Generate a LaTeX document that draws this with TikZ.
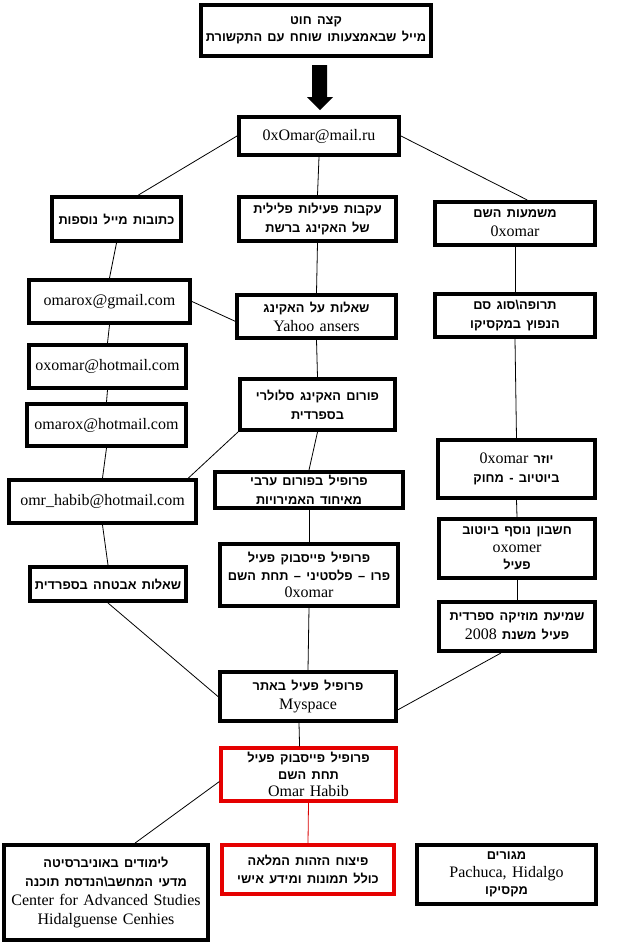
\documentclass[tikz,border=0pt]{standalone}
\usepackage{fontspec}
\setmainfont{Liberation Serif}
\newfontfamily\hebfont[Script=Hebrew]{Liberation Sans}
\TeXXeTstate=1
\usetikzlibrary{calc}
\newcommand\hb[1]{{\hebfont\bfseries\fontsize{9.6}{14}\selectfont\beginR #1\endR}}
\newcommand\lt[1]{\beginL{\rmfamily\mdseries\fontsize{12}{14}\selectfont #1}\endL}
\begin{document}
\begin{tikzpicture}[x=0.75pt,y=-0.75pt,
  sz/.style 2 args={minimum width=#1*0.75pt-3pt, minimum height=#2*0.75pt-3pt,
    text width=#1*0.75pt-3pt},
  box/.style={draw=black, line width=3pt, fill=white, align=center, inner sep=0pt,
    font=\fontsize{12}{14.2}\selectfont},
  tight/.style={font=\fontsize{12}{13}\selectfont},
  redbox/.style={box, draw=red!90!black, line width=2.4pt},
  link/.style={line width=0.6pt},
  redlink/.style={line width=0.6pt, draw=red!85!black}]
\useasboundingbox (0,0) rectangle (619,950);
\fill[white] (0,0) rectangle (619,950);

% nodes
\node[box, tight, sz={234}{55}] (top) at (316,30.5) {\hb{קצה חוט}\\\hb{מייל שבאמצעותו שוחח עם התקשורת}};
\node[box, sz={164}{42}] (oxomar) at (319,136) {0xOmar@mail.ru};
\node[box, sz={133}{48}] (ktovot) at (116.5,219) {\hb{כתובות מייל נוספות}};
\node[box, sz={161}{48}] (akavot) at (317.5,219) {\hb{עקבות פעילות פלילית}\\\hb{של האקינג ברשת}};
\node[box, sz={164}{47}] (mashmaut) at (515,223.5) {\hb{משמעות השם}\\0xomar};
\node[box, sz={165}{47}] (gmail) at (109.5,301.5) {omarox@gmail.com};
\node[box, sz={163}{47}] (yahoo) at (316.5,316.5) {\hb{שאלות על האקינג}\\Yahoo ansers};
\node[box, sz={164}{47}] (trufa) at (515,315.5) {\hb{תרופה\textbackslash סוג סם}\\\hb{הנפוץ במקסיקו}};
\node[box, sz={161}{47}] (oxhot) at (107.5,366.5) {oxomar@hotmail.com};
\node[box, sz={163}{46}] (omhot) at (106.5,425) {omarox@hotmail.com};
\node[box, sz={159}{55}] (forum) at (317.5,404.5) {\hb{פורום האקינג סלולרי}\\\hb{בספרדית}};
\node[box, sz={191}{47}] (omr) at (102.5,501.5) {omr\_habib@hotmail.com};
\node[box, sz={192}{40}] (arab) at (309,490) {\hb{פרופיל בפורום ערבי}\\\hb{מאיחוד האמירויות}};
\node[box, sz={161}{62}] (yuzer) at (516.5,469) {\hb{יוזר \lt{0xomar}}\\\hb{ביוטיוב - מחוק}};
\node[box, tight, sz={160}{63}] (heshbon) at (517,548.5) {\hb{חשבון נוסף ביוטוב}\\oxomer\\\hb{פעיל}};
\node[box, sz={160}{38}] (avtacha) at (108,584) {\hb{שאלות אבטחה בספרדית}};
\node[box, tight, sz={182}{66}] (fbpro) at (309,575) {\hb{פרופיל פייסבוק פעיל}\\\hb{פרו – פלסטיני – תחת השם}\\0xomar};
\node[box, sz={160}{53}] (shmiat) at (517,626.5) {\hb{שמיעת מוזיקה ספרדית}\\\hb{פעיל משנת \lt{2008}}};
\node[box, sz={180}{53}] (myspace) at (308,696.5) {\hb{פרופיל פעיל באתר}\\Myspace};
\node[redbox, tight, sz={179}{57}] (red1) at (308.5,774.5) {\hb{פרופיל פייסבוק פעיל}\\\hb{תחת השם}\\Omar Habib};
\node[redbox, sz={176}{53}] (red2) at (308,869.5) {\hb{פיצוח הזהות המלאה}\\\hb{כולל תמונות ומידע אישי}};
\node[box, sz={208}{99}] (limudim) at (106,892.5) {\hb{לימודים באוניברסיטה}\\\hb{מדעי המחשב\textbackslash הנדסת תוכנה}\\Center for Advanced Studies\\Hidalguense Cenhies};
\node[box, tight, sz={183}{63}] (megurim) at (506.5,874.5) {\hb{מגורים}\\Pachuca, Hidalgo\\\hb{מקסיקו}};

% block arrow
\fill[black] (312,65) -- (327,65) -- (327,97) -- (333,97) -- (320,110) -- (307,97) -- (312,97) -- cycle;

% connectors
\draw[link] (oxomar.west) -- ($(ktovot.north)!0.33!(ktovot.north east)$);
\draw[link] (oxomar.east) -- ($(mashmaut.north)!0.15!(mashmaut.north east)$);
\draw[link] (oxomar.south) -- (akavot.north);
\draw[link] (akavot.south) -- (yahoo.north);
\draw[link] (ktovot.south) -- (gmail.north);
\draw[link] (gmail.east) -- ($(yahoo.west)!0.2!(yahoo.south west)$);
\draw[link] (gmail.south) -- (oxhot.north);
\draw[link] (oxhot.south) -- (omhot.north);
\draw[link] (omhot.south) -- (omr.north);
\draw[link] ($(omr.north east)!0.1!(omr.north)$) -- (forum.south west);
\draw[link] (yahoo.south) -- (forum.north);
\draw[link] (forum.south) -- (arab.north);
\draw[link] (arab.south) -- (fbpro.north);
\draw[link] (omr.south) -- (avtacha.north);
\draw[link] (avtacha.south) -- (myspace.west);
\draw[link] (fbpro.south) -- (myspace.north);
\draw[link] ($(myspace.east)!0.5!(myspace.south east)$) -- ($(shmiat.south)!0.2!(shmiat.south west)$);
\draw[link] ($(myspace.south)!0.1!(myspace.south west)$) -- ($(red1.north)!0.1!(red1.north west)$);
\draw[link] ($(red1.west)!0.25!(red1.south west)$) -- ($(limudim.north)!0.28!(limudim.north east)$);
\draw[redlink] (red1.south) -- (red2.north);
\draw[link] (mashmaut.south) -- (trufa.north);
\draw[link] (trufa.south) -- (yuzer.north);
\draw[link] (yuzer.south) -- (heshbon.north);
\draw[link] (heshbon.south) -- (shmiat.north);
\draw[link] ($(shmiat.south)!0.06!(shmiat.south west)$) -- ($(shmiat.south)!0.06!(shmiat.south west)$ |- megurim.north);
\end{tikzpicture}
\end{document}
